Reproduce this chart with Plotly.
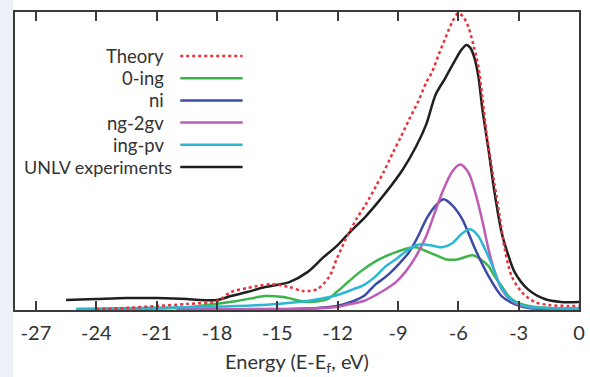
import plotly.graph_objects as go

# ---------------- data ----------------
theory_x = [-24, -22.5, -21, -19.5, -18, -17.3, -16.5, -16, -15.3, -14.4, -13.7, -13.0, -12.4,
            -12.05, -11.6, -11.07, -10.6, -10.1, -9.7, -9.25, -8.85, -8.45, -8.0, -7.6, -7.3,
            -6.98, -6.64, -6.3, -6.0, -5.75, -5.5, -5.25, -5.0, -4.8, -4.6, -4.4, -4.2, -3.94,
            -3.69, -3.35, -2.85, -2.2, -1.5, -0.5, 0]
theory_y = [0, 1, 3, 5, 8, 17, 21, 23, 25, 22, 18, 20, 33,
            50, 70, 90, 105, 123, 138, 157, 173, 190, 208, 227, 238,
            255, 272, 288, 297, 293, 283, 265, 243, 212, 177, 150, 125, 93,
            60, 33, 17, 7, 4, 3, 3]

unlv_x = [-25.5, -24, -22.5, -21, -19.5, -18.9, -18, -17.3, -16.5, -15.6, -14.4, -13.5, -12.7,
          -12.05, -11.4, -10.6, -9.6, -8.76, -8.1, -7.6, -7.13, -6.64, -6.15, -5.85, -5.6,
          -5.4, -5.2, -5.0, -4.8, -4.5, -4.2, -3.85, -3.5, -3.2, -2.55, -1.7, -0.9, 0]
unlv_y = [9, 10, 11, 11, 10, 9, 9, 13, 17, 22, 27, 37, 52,
          63, 77, 93, 117, 140, 163, 185, 215, 232, 250, 260, 265,
          262, 252, 233, 200, 160, 117, 77, 53, 37, 20, 10, 7, 7]

ing0_x = [-25, -20, -18.9, -17, -15.6, -14.7, -13.5, -12.5, -12.05, -11.6, -10.9, -10.1, -9.6,
          -9.1, -8.5, -8.1, -7.6, -7.0, -6.64, -6.0, -5.3, -4.9, -4.5, -4.2, -3.85, -3.5,
          -3.2, -2.5, -1.5, 0]
ing0_y = [0, 1, 3, 8, 13, 12, 7, 10, 17, 25, 37, 48, 53,
          57, 61, 62, 58, 53, 50, 50, 54, 50, 43, 33, 23, 13,
          8, 3, 1, 0]

ni_x = [-20, -15, -13, -12.05, -11.2, -10.7, -10.1, -9.75, -9.4, -9.1, -8.45, -8.0, -7.6,
        -7.2, -6.74, -6.3, -5.8, -5.16, -4.5, -3.85, -3.2, -2.5, -1.5, 0]
ni_y = [0, 0, 1, 3, 8, 13, 25, 30, 36, 42, 57, 73, 90,
        102, 110, 104, 90, 60, 33, 13, 5, 1, 0, 0]

ng2gv_x = [-20, -14, -12.05, -11.6, -10.7, -10.1, -9.75, -9.1, -8.6, -8.1, -7.6, -7.2, -6.8,
           -6.3, -5.9, -5.5, -5.16, -4.8, -4.5, -4.2, -3.85, -3.4, -2.8, -2, 0]
ng2gv_y = [0, 0, 2, 4, 8, 14, 18, 27, 38, 53, 73, 95, 117,
           138, 145, 137, 117, 88, 60, 38, 20, 9, 3, 1, 0]

ingpv_x = [-25, -19, -17, -15, -13.5, -12.9, -12.0, -11.2, -10.7, -10.1, -9.6, -9.1, -8.6,
           -8.1, -7.8, -7.4, -6.8, -6.3, -5.8, -5.4, -5.0, -4.67, -4.3, -4.0, -3.6, -3.2,
           -2.5, -1.5, 0]
ingpv_y = [0, 2, 3, 5, 8, 10, 14, 20, 24, 33, 43, 50, 58,
           64, 65, 64, 62, 66, 76, 80, 73, 60, 43, 27, 14, 7,
           2, 1, 0]

x_ticks = [-27, -24, -21, -18, -15, -12, -9, -6, -3, 0]
legend_names = ["Theory", "0-ing", "ni", "ng-2gv", "ing-pv", "UNLV experiments"]

# ---------------- styling ----------------
FONT = "Lato"
C_RED = "#e8313a"
C_GREEN = "#3bb54a"
C_BLUE = "#3b4ba6"
C_MAG = "#bf5bb5"
C_CYAN = "#2bb6d6"
C_BLACK = "#1f1f1f"
AX = "#3a3a3a"
TXT = "#333333"

W, H = 590, 377
ML, MR, MT, MB = 15, 5, 12, 67
PW, PH = W - ML - MR, H - MT - MB

fig = go.Figure()
series = [
    (ing0_x, ing0_y, C_GREEN, "solid", "0-ing"),
    (ni_x, ni_y, C_BLUE, "solid", "ni"),
    (ng2gv_x, ng2gv_y, C_MAG, "solid", "ng-2gv"),
    (ingpv_x, ingpv_y, C_CYAN, "solid", "ing-pv"),
    (unlv_x, unlv_y, C_BLACK, "solid", "UNLV experiments"),
    (theory_x, theory_y, C_RED, "dot", "Theory"),
]
for xs, ys, c, d, n in series:
    fig.add_trace(go.Scatter(
        x=xs, y=ys, mode="lines", name=n, showlegend=False,
        line=dict(color=c, width=2.5, dash=d, shape="spline", smoothing=0.8),
    ))

def px_x(p):
    return (p - ML) / PW

def px_y(p):
    return (MT + PH - p) / PH

# manual legend: text right-aligned, sample line to the right
leg_colors = [C_RED, C_GREEN, C_BLUE, C_MAG, C_CYAN, C_BLACK]
leg_dash = ["dot", "solid", "solid", "solid", "solid", "solid"]
leg_rows = [56, 78.2, 100.4, 122.6, 144.8, 167]
leg_right = [167, 167, 167, 167, 167, 175]
leg_size = [18.5, 18.5, 18.5, 18.5, 18.5, 18]
shapes = []
annotations = []
for name, c, d, yr, xr, fs in zip(legend_names, leg_colors, leg_dash, leg_rows, leg_right, leg_size):
    annotations.append(dict(
        text=name, xref="paper", yref="paper", x=px_x(xr), y=px_y(yr),
        xanchor="right", yanchor="middle", showarrow=False,
        height=20, borderpad=0, valign="middle",
        font=dict(family=FONT, size=fs, color=TXT),
    ))
    shapes.append(dict(
        type="line", xref="paper", yref="paper",
        x0=px_x(182), x1=px_x(245), y0=px_y(yr), y1=px_y(yr),
        line=dict(color=c, width=2.5, dash=d),
    ))

# light blue strip at the left edge of the picture
shapes.append(dict(
    type="rect", xref="paper", yref="paper",
    x0=px_x(0), x1=px_x(13), y0=px_y(H), y1=px_y(0),
    fillcolor="#edf2f9", line=dict(width=0), layer="below",
))

fig.update_layout(
    width=W, height=H,
    margin=dict(l=ML, r=MR, t=MT, b=MB),
    paper_bgcolor="white", plot_bgcolor="white",
    font=dict(family=FONT, size=20, color=TXT),
    shapes=shapes, annotations=annotations,
    xaxis=dict(
        range=[-28.04, 0], tickvals=x_ticks, ticktext=[str(v) for v in x_ticks],
        ticks="inside", ticklen=9, tickwidth=1.5, tickcolor=AX,
        showline=True, linecolor=AX, linewidth=2, mirror="ticks",
        showgrid=False, zeroline=False,
        tickfont=dict(family=FONT, size=20, color=TXT),
        ticklabelstandoff=4,
        title=dict(text="Energy (E-E<sub>f</sub>, eV)", standoff=12,
                   font=dict(family=FONT, size=20, color=TXT)),
    ),
    yaxis=dict(
        range=[-1, 298], showticklabels=False, ticks="",
        showline=True, linecolor=AX, linewidth=2, mirror=True,
        showgrid=False, zeroline=False,
    ),
)

fig.write_html("out.html")
